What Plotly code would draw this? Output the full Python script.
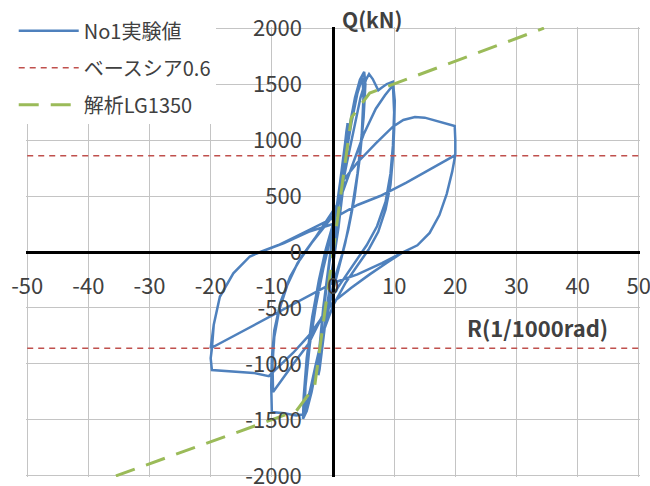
import plotly.graph_objects as go

# Story drift angle R (1/1000 rad) and storey shear Q (kN) for specimen No1
R_exp = [
    0, 0.5, 1.0, 1.6, 2.2, 2.4, 2.2, 1.6, 0.9, 0.3, -0.4, -1.0, -1.6, -2.2, -2.4, -2.2, -1.6, -0.9, -0.3,
    0.4, 1.1, 1.8, 2.4, 2.2, 1.5, 0.7, 0, -0.8, -1.6, -2.4, -2.1, -1.4, -0.6, 0,
    0.8, 1.8, 2.8, 3.6, 4.4, 5.1, 5.3, 5.0, 4.4, 3.5, 2.5, 1.5, 0.5, -0.5, -1.5, -2.5, -3.5, -4.3, -4.9,
    -4.8, -4.3, -3.4, -2.3, -1.2, 0,
    1, 2, 3, 4, 4.8, 5, 4.7, 4, 3, 2, 0.8, -0.5, -1.8, -3, -4, -4.7, -4.5, -3.8, -2.8, -1.6, -0.3,
    1, 2.2, 3.4, 4.5, 5.4, 5.9, 6.5, 7.0, 7.4, 8, 8.8, 9.8, 10.1, 10, 9.8, 9.4, 8.6, 7.4, 5.8, 4, 2, 0,
    -1.5, -2.8, -3.8, -4.8, -6, -8, -10, -10.1, -10, -9.6, -8.6, -7, -5, -3, -1,
    1, 3, 5, 7, 8.5, 9.8, 10, 9.8, 9.4, 8.6, 7.2, 5.5, 3.5, 1.5, 0, -2, -4, -6.5, -8.5, -9.8,
    -9.9, -9.6, -8.8, -7.5, -5.8, -3.5, -1.5, 0.5,
    1.1, 4, 7, 9.8, 11.5, 13.4, 15, 17, 19, 19.9, 20, 20, 19.5, 18.6, 17.4, 15.8, 13.8, 11.5,
    9, 6, 3, 0, -2, -4, -6.5, -9, -10.5, -13, -16.3, -19.8, -20, -19.8, -19.5, -18.5, -16.3,
    -13.6, -11.9, -9, -6, -3, -1, 1, 4, 7.7, 12, 16, 20, 19.5, 18.6, 17.4, 15.8, 13.8, 11.5,
    8, 4, 0, -10, -20, -19.5, -18.5, -16.3, -13.6, -11.9, -8, -4, 0,
]
Q_exp = [
    0, 250, 520, 820, 1080, 1150, 900, 550, 220, 0, -250, -520, -800, -1050, -1100, -850, -500, -200, 50,
    300, 600, 900, 1150, 880, 500, 150, -100, -420, -780, -1100, -800, -450, -100, 120,
    420, 800, 1150, 1380, 1540, 1610, 1500, 1200, 850, 480, 200, -20, -200, -420, -700, -1000, -1250, -1420, -1490,
    -1300, -950, -580, -250, 20, 250,
    520, 850, 1150, 1420, 1560, 1400, 1050, 700, 350, 80, -180, -450, -800, -1120, -1330, -1450, -1200, -830, -480, -150, 150,
    450, 780, 1100, 1380, 1540, 1590, 1545, 1480, 1445, 1470, 1500, 1520, 1350, 1100, 850, 600, 380, 180, 20, -120, -280, -480,
    -700, -1000, -1250, -1450, -1460, -1440, -1430, -1200, -950, -700, -450, -220, -30, 120, 280,
    450, 750, 1050, 1280, 1400, 1490, 1250, 950, 700, 450, 230, 60, -100, -250, -380, -600, -820, -1000, -1150, -1250,
    -1000, -760, -520, -300, -100, 80, 220, 360,
    600, 800, 970, 1120, 1180, 1205, 1200, 1170, 1140, 1125, 1000, 870, 720, 520, 330, 170, 60, 0,
    -90, -200, -320, -450, -600, -750, -900, -1030, -1110, -1080, -1070, -1055, -950, -860, -650, -400, -190,
    -40, 0, 60, 140, 220, 280, 330, 420, 500, 620, 740, 866, 720, 520, 330, 170, 60, 0,
    -100, -200, -277, -570, -860, -650, -400, -190, -40, 0, 80, 180, 250,
]

# Base shear coefficient 0.6 level (kN)
BASE_SHEAR = 860
R_base = [-50, 50]

# Analysis skeleton curve LG1350
R_ana = [-35.5, -6, -3, 0, 3, 6, 34.5]
Q_ana = [-2000, -1420, -1200, 0, 1200, 1420, 2000]

X_TICKS = [-50, -40, -30, -20, -10, 0, 10, 20, 30, 40, 50]
Y_TICKS = [-2000, -1500, -1000, -500, 0, 500, 1000, 1500, 2000]

FONT = "Noto Sans CJK JP"
TXT = "#404040"
GRID = "#c4c4c4"

fig = go.Figure()
fig.add_trace(go.Scatter(
    x=R_exp, y=Q_exp, mode="lines", name="No1実験値",
    line=dict(color="#4f81bd", width=2.5), legendgroup="a",
))
fig.add_trace(go.Scatter(
    x=R_base + [None] + R_base,
    y=[BASE_SHEAR, BASE_SHEAR, None, -BASE_SHEAR, -BASE_SHEAR],
    mode="lines", name="ベースシア0.6",
    line=dict(color="#c0504d", width=1.4, dash="6px,5px"), legendgroup="b",
))
fig.add_trace(go.Scatter(
    x=R_ana, y=Q_ana, mode="lines", name="解析LG1350",
    line=dict(color="#9bbb59", width=3, dash="20px,12px"), legendgroup="c",
))

fig.update_layout(
    width=650, height=486,
    margin=dict(l=26, r=10, t=27, b=9),
    paper_bgcolor="white", plot_bgcolor="white",
    font=dict(family=FONT, color=TXT, size=21),
    showlegend=True,
    legend=dict(
        x=-0.02, y=1.035, xanchor="left", yanchor="top",
        bgcolor="white", font=dict(size=20, color=TXT),
        traceorder="grouped", tracegroupgap=8,
        itemwidth=60,
    ),
    xaxis=dict(
        range=[-50.2, 50.2], tickvals=X_TICKS, ticktext=[str(v) for v in X_TICKS],
        showgrid=True, gridcolor=GRID, gridwidth=1, zeroline=False,
        showline=True, linecolor="black", linewidth=2.5,
        anchor="free", position=0.5, ticks="", ticklabelstandoff=14,
        ticklabeloverflow="allow",
        tickfont=dict(size=22, color=TXT), automargin=False,
    ),
    yaxis=dict(
        range=[-2010, 2010], tickvals=Y_TICKS, ticktext=[str(v) for v in Y_TICKS],
        showgrid=True, gridcolor=GRID, gridwidth=1, zeroline=False,
        showline=True, linecolor="black", linewidth=2.5,
        anchor="free", position=0.5, ticks="", ticklabelstandoff=26,
        ticklabeloverflow="allow",
        tickfont=dict(size=22, color=TXT), automargin=False,
    ),
    annotations=[
        dict(text="<b>Q(kN)</b>", x=6.4, y=1.0, xref="x", yref="paper",
             xanchor="center", yanchor="middle", yshift=8, showarrow=False,
             font=dict(size=21, color=TXT)),
        dict(text="<b>R(1/1000rad)</b>", x=33.5, y=-670, xref="x", yref="y",
             xanchor="center", yanchor="middle", showarrow=False,
             font=dict(size=22, color=TXT)),
    ],
)

fig.write_html("out.html")
